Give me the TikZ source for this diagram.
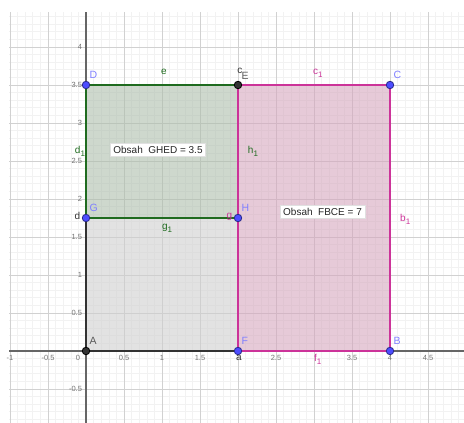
\documentclass[tikz,border=0pt]{standalone}
\usepackage{fontspec}
\setmainfont{Liberation Sans}
\usetikzlibrary{positioning}
\definecolor{pine}{HTML}{1F6B1F}
\definecolor{pinefill}{HTML}{ADBEAC}
\definecolor{rose}{HTML}{CC3399}
\definecolor{rosefill}{HTML}{D5A7BE}
\definecolor{ash}{HTML}{333333}
\definecolor{ashfill}{HTML}{CFCFCF}
\definecolor{dot}{HTML}{4D4DFF}
\definecolor{dotlabel}{HTML}{7F7FFF}
\newcommand{\segsub}[2]{#1\raisebox{-3pt}{\fontsize{8}{8}\selectfont #2}}
\tikzset{
  minorgrid/.style={draw=black!5,line width=0.6pt},
  majorgrid/.style={draw=black!18,line width=0.9pt},
  axisline/.style={draw=black!60,line width=1.1pt},
  ticklbl/.style={font=\fontsize{7.5}{8}\selectfont,text=black!55,inner sep=0pt},
  grayarea/.style={fill=ashfill,fill opacity=0.6},
  greenarea/.style={fill=pinefill,fill opacity=0.6},
  pinkarea/.style={fill=rosefill,fill opacity=0.6},
  grayedge/.style={draw=ash,line width=1.8pt},
  greenedge/.style={draw=pine,line width=1.8pt},
  pinkedge/.style={draw=rose,line width=1.8pt},
  bluept/.style={circle,draw=dot!55!black,fill=dot,line width=0.8pt,minimum size=7.5pt,inner sep=0pt},
  darkpt/.style={bluept,draw=black,fill=ash},
  ptlabel/.style={font=\fontsize{10.5}{12}\selectfont,text=dotlabel,inner sep=0pt},
  seglabel/.style={font=\fontsize{10}{12}\selectfont,inner sep=0pt},
  areabox/.style={draw=black!12,fill=white,inner sep=3pt,font=\fontsize{10}{12}\selectfont,text=black!85}
}
\begin{document}
\begin{tikzpicture}[x=76pt,y=76pt]
    \useasboundingbox (-1.1316,-0.9474) rectangle (4.9737,4.6184);
    \draw[minorgrid,step=0.1] (-1.013,-0.947) grid (4.974,4.461);
    \draw[majorgrid,step=0.5] (-1.013,-0.947) grid (4.974,4.461);
    \draw[axisline] (-1.013,0) -- (4.974,0);
    \draw[axisline] (0,-0.947) -- (0,4.461);

    \foreach \x in {-1,-0.5,0.5,1,1.5,2.5,3.5,4,4.5}
      \node[ticklbl] at (\x,-0.092) {\x};
    \node[ticklbl] at (-0.105,-0.092) {0};
    \foreach \y in {-0.5,0.5,1,1.5,2,2.5,3,3.5,4}
      \node[ticklbl,anchor=east] at (-0.05,\y) {\y};

    \coordinate (A) at (0,0);
    \coordinate (F) at (2,0);
    \coordinate (B) at (4,0);
    \coordinate (C) at (4,3.5);
    \coordinate (E) at (2,3.5);
    \coordinate (D) at (0,3.5);
    \coordinate (G) at (0,1.75);
    \coordinate (H) at (2,1.75);

    \fill[grayarea] (A) -- (F) -- (H) -- (G) -- cycle;
    \fill[greenarea] (G) -- (H) -- (E) -- (D) -- cycle;
    \fill[pinkarea] (F) -- (B) -- (C) -- (E) -- cycle;

    \draw[grayedge] (A) -- (F);
    \draw[grayedge] (A) -- (G);
    \draw[greenedge] (G) -- (D);
    \draw[greenedge] (D) -- (E);
    \draw[greenedge] (G) -- (H);
    \draw[greenedge] (H) -- (E);
    \draw[pinkedge] (F) -- (B);
    \draw[pinkedge] (B) -- (C);
    \draw[pinkedge] (C) -- (E);
    \draw[pinkedge] (E) -- (F);

    \node[areabox] (ghed) at (0.947,2.645) {Obsah\ \ GHED = 3.5};
    \node[areabox] (fbce) at (3.112,1.836) {Obsah\ \ FBCE = 7};

    \node[seglabel,text=pine] (labe) at (1.026,3.675) {e};
    \node[seglabel,text=ash] (labc) at (2.026,3.684) {c};
    \node[seglabel,text=rose] (labcone) at (3.05,3.65) {\segsub{c}{1}};
    \node[seglabel,text=pine] (labdone) at (-0.079,2.632) {\segsub{d}{1}};
    \node[seglabel,text=pine] (labhone) at (2.197,2.632) {\segsub{h}{1}};
    \node[seglabel,text=ash] (labd) at (-0.114,1.776) {d};
    \node[seglabel,text=pine] (labgone) at (1.066,1.618) {\segsub{g}{1}};
    \node[seglabel,text=rose] (labg) at (1.886,1.767) {g};
    \node[seglabel,text=rose] (labbone) at (4.2,1.73) {\segsub{b}{1}};
    \node[seglabel,text=rose] (labfone) at (3.05,-0.11) {\segsub{f}{1}};
    \node[seglabel,text=ash] (laba) at (2.013,-0.092) {a};

    \foreach \p in {D,G,H,F,C,B}
      \node[bluept] (pt\p) at (\p) {};
    \node[darkpt] (ptA) at (A) {};
    \node[darkpt] (ptE) at (E) {};

    \foreach \p in {D,G,H,F,C,B}
      \node[ptlabel,above right=3.4pt and 0.4pt of pt\p] {\p};
    \node[ptlabel,text=black!65,above right=3.4pt and 0.4pt of ptA] {A};
    \node[ptlabel,text=black!65,above right=2pt and 0.4pt of ptE] {E};
  \end{tikzpicture}
\end{document}
